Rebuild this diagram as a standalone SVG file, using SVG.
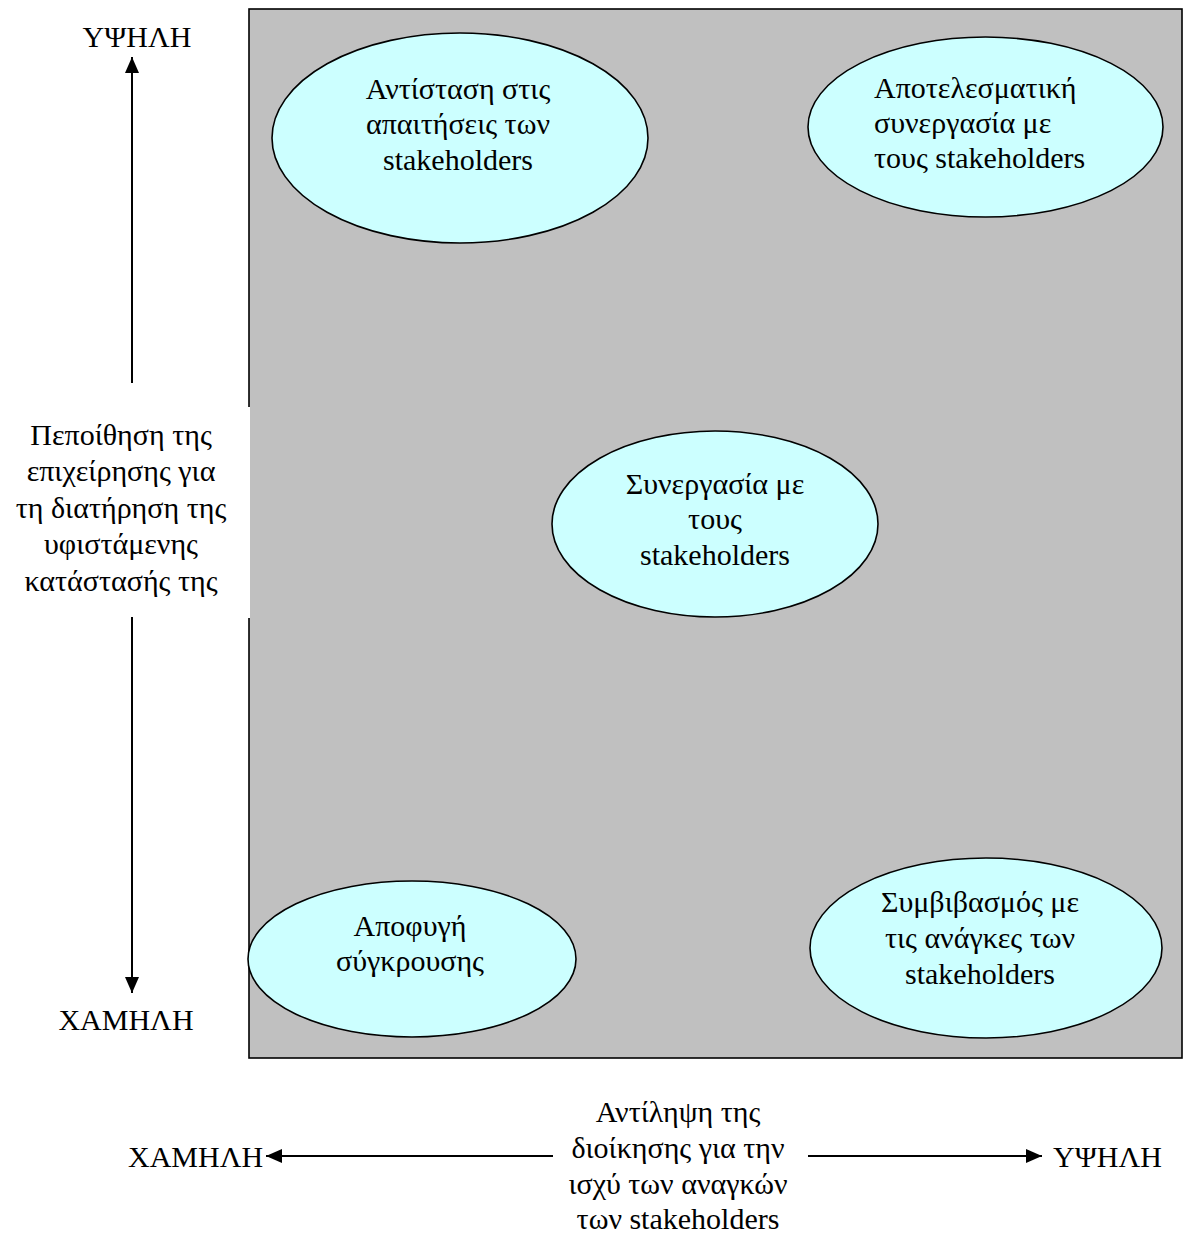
<svg xmlns="http://www.w3.org/2000/svg" width="1183" height="1233" viewBox="0 0 1183 1233">
<style>
text{font-family:"Liberation Serif","Times New Roman",serif;font-size:30px;fill:#000}
.c{text-anchor:middle}
.node ellipse{fill:#CCFFFF;stroke:#000;stroke-width:1.6}
.conn line{stroke:#000;stroke-width:2}
</style>
<defs>
<marker id="ah" viewBox="0 0 16 14" refX="16" refY="7" markerWidth="16" markerHeight="14" markerUnits="userSpaceOnUse" orient="auto">
<path d="M0,0 L16,7 L0,14 Z" fill="#000"/>
</marker>
</defs>
<rect id="field" x="249" y="9" width="933" height="1049" fill="#C0C0C0" stroke="#000" stroke-width="1.6"/>
<rect x="20" y="407" width="230" height="211" fill="#fff"/>
<g id="n-tl" class="node">
<ellipse cx="460" cy="138" rx="188" ry="105"/>
<text class="c" x="458" y="99">Αντίσταση στις</text>
<text class="c" x="458" y="134">απαιτήσεις των</text>
<text class="c" x="458" y="170">stakeholders</text>
</g>
<g id="n-tr" class="node">
<ellipse cx="985.5" cy="127" rx="177.5" ry="90"/>
<text x="874" y="98">Αποτελεσματική</text>
<text x="874" y="133">συνεργασία με</text>
<text x="874" y="168">τους stakeholders</text>
</g>
<g id="n-c" class="node">
<ellipse cx="715" cy="524" rx="163" ry="93"/>
<text class="c" x="715" y="494">Συνεργασία με</text>
<text class="c" x="715" y="529">τους</text>
<text class="c" x="715" y="565">stakeholders</text>
</g>
<g id="n-bl" class="node">
<ellipse cx="412" cy="959" rx="164" ry="78"/>
<text class="c" x="410" y="936">Αποφυγή</text>
<text class="c" x="410" y="971">σύγκρουσης</text>
</g>
<g id="n-br" class="node">
<ellipse cx="986" cy="948" rx="176" ry="90"/>
<text class="c" x="980" y="912">Συμβιβασμός με</text>
<text class="c" x="980" y="948">τις ανάγκες των</text>
<text class="c" x="980" y="984">stakeholders</text>
</g>
<g id="axis-y-label">
<text class="c" x="137" y="47">ΥΨΗΛΗ</text>
<text class="c" x="121" y="445">Πεποίθηση της</text>
<text class="c" x="121" y="481">επιχείρησης για</text>
<text class="c" x="121" y="518">τη διατήρηση της</text>
<text class="c" x="121" y="554">υφιστάμενης</text>
<text class="c" x="121" y="591">κατάστασής της</text>
<text class="c" x="126" y="1030">ΧΑΜΗΛΗ</text>
</g>
<g id="axis-x-label">
<text x="128" y="1167">ΧΑΜΗΛΗ</text>
<text class="c" x="678" y="1122">Αντίληψη της</text>
<text class="c" x="678" y="1158">διοίκησης για την</text>
<text class="c" x="678" y="1194">ισχύ των αναγκών</text>
<text class="c" x="678" y="1229">των stakeholders</text>
<text x="1053" y="1167">ΥΨΗΛΗ</text>
</g>
<g id="connectors" class="conn">
<line x1="132" y1="383" x2="132" y2="57" marker-end="url(#ah)"/>
<line x1="132" y1="617" x2="132" y2="993" marker-end="url(#ah)"/>
<line x1="553" y1="1156" x2="266" y2="1156" marker-end="url(#ah)"/>
<line x1="808" y1="1156" x2="1042" y2="1156" marker-end="url(#ah)"/>
</g>
</svg>
